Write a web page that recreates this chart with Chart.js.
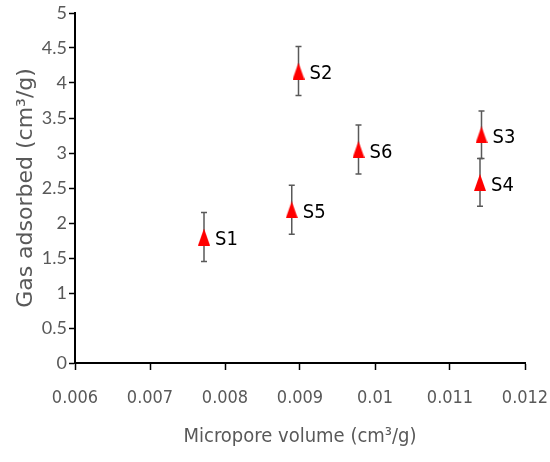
<!DOCTYPE html>
<html>
<head>
<meta charset="utf-8">
<script src="https://cdn.jsdelivr.net/npm/chart.js@4.4.0/dist/chart.umd.min.js"></script>
<style>
  html, body { margin: 0; padding: 0; background: #fff; }
  #wrap { width: 550px; height: 462px; }
</style>
</head>
<body>
<div id="wrap"><canvas id="chart" width="550" height="462"></canvas></div>
<script>
// sample names and values
const samples = ['S1', 'S2', 'S3', 'S4', 'S5', 'S6'];
const microporeVolume = [0.00772, 0.00898, 0.01142, 0.01140, 0.00889, 0.00978];
const gasAdsorbed = [1.80, 4.17, 3.26, 2.58, 2.19, 3.05];
const errors = [0.35, 0.35, 0.34, 0.34, 0.35, 0.35];
const xTickLabels = ['0.006', '0.007', '0.008', '0.009', '0.01', '0.011', '0.012'];
const yTickLabels = ['0', '0.5', '1', '1.5', '2', '2.5', '3', '3.5', '4', '4.5', '5'];

const narrow = "'DejaVu Sans Condensed', 'Liberation Sans Narrow', Lato, sans-serif";

// tall triangle marker like the Excel one
const tri = document.createElement('canvas');
tri.width = 12;
tri.height = 17;
const tctx = tri.getContext('2d');
tctx.fillStyle = '#ff0000';
tctx.beginPath();
tctx.moveTo(0, 17);
tctx.lineTo(6, 0);
tctx.lineTo(12, 17);
tctx.closePath();
tctx.fill();

// error bars, drawn under the markers
const errorBars = {
    id: 'errorBars',
    beforeDatasetsDraw(chart) {
        const ctx = chart.ctx;
        const x = chart.scales.x, y = chart.scales.y;
        ctx.save();
        ctx.strokeStyle = '#595959';
        ctx.lineWidth = 1.5;
        gasAdsorbed.forEach((v, i) => {
            const px = x.getPixelForValue(microporeVolume[i]);
            const top = y.getPixelForValue(v + errors[i]);
            const bot = y.getPixelForValue(v - errors[i]);
            ctx.beginPath();
            ctx.moveTo(px, top); ctx.lineTo(px, bot);
            ctx.moveTo(px - 3, top); ctx.lineTo(px + 3, top);
            ctx.moveTo(px - 3, bot); ctx.lineTo(px + 3, bot);
            ctx.stroke();
        });
        ctx.restore();
    }
};

// sample labels to the right of each point
const sampleLabels = {
    id: 'sampleLabels',
    afterDatasetsDraw(chart) {
        const ctx = chart.ctx;
        const x = chart.scales.x, y = chart.scales.y;
        ctx.save();
        ctx.fillStyle = '#000';
        ctx.font = '20px ' + narrow;
        ctx.textAlign = 'left';
        ctx.textBaseline = 'middle';
        samples.forEach((s, i) => {
            ctx.fillText(s, x.getPixelForValue(microporeVolume[i]) + 11, y.getPixelForValue(gasAdsorbed[i]) + 3);
        });
        ctx.restore();
    }
};

new Chart(document.getElementById('chart'), {
    type: 'scatter',
    data: {
        datasets: [{
            data: microporeVolume.map((v, i) => ({ x: v, y: gasAdsorbed[i] })),
            pointStyle: tri,
            pointRadius: 6,
        }]
    },
    options: {
        responsive: false,
        animation: false,
        layout: { padding: { top: 13, right: 25, left: 0, bottom: 0 } },
        plugins: { legend: { display: false }, tooltip: { enabled: false } },
        scales: {
            x: {
                type: 'linear',
                min: 0.006,
                max: 0.012,
                afterFit: s => { s.height = 99; s.paddingLeft = 0; s.paddingRight = 0; },
                border: { color: '#000', width: 2 },
                grid: { drawOnChartArea: false, tickLength: 7, tickColor: '#000', tickWidth: 1.5 },
                ticks: {
                    stepSize: 0.001,
                    color: '#595959',
                    font: { family: narrow, size: 18 },
                    padding: 18,
                    callback: (v, i) => xTickLabels[i]
                },
                title: {
                    display: true,
                    text: 'Micropore volume (cm³/g)',
                    color: '#595959',
                    font: { family: narrow, size: 20 },
                    padding: { top: 0, bottom: 13 }
                }
            },
            y: {
                min: 0,
                max: 5,
                afterFit: s => { s.width = 75; s.paddingTop = 0; s.paddingBottom = 0; },
                border: { color: '#000', width: 2 },
                grid: { drawOnChartArea: false, tickLength: 6, tickColor: '#000', tickWidth: 1.5 },
                ticks: {
                    stepSize: 0.5,
                    color: '#595959',
                    font: { family: 'Lato', size: 18 },
                    padding: 2,
                    callback: (v, i) => yTickLabels[i]
                },
                title: {
                    display: true,
                    text: 'Gas adsorbed (cm³/g)',
                    color: '#595959',
                    font: { family: 'DejaVu Sans', size: 22 },
                    padding: { top: 13, bottom: 0 }
                }
            }
        }
    },
    plugins: [errorBars, sampleLabels]
});
</script>
</body>
</html>
